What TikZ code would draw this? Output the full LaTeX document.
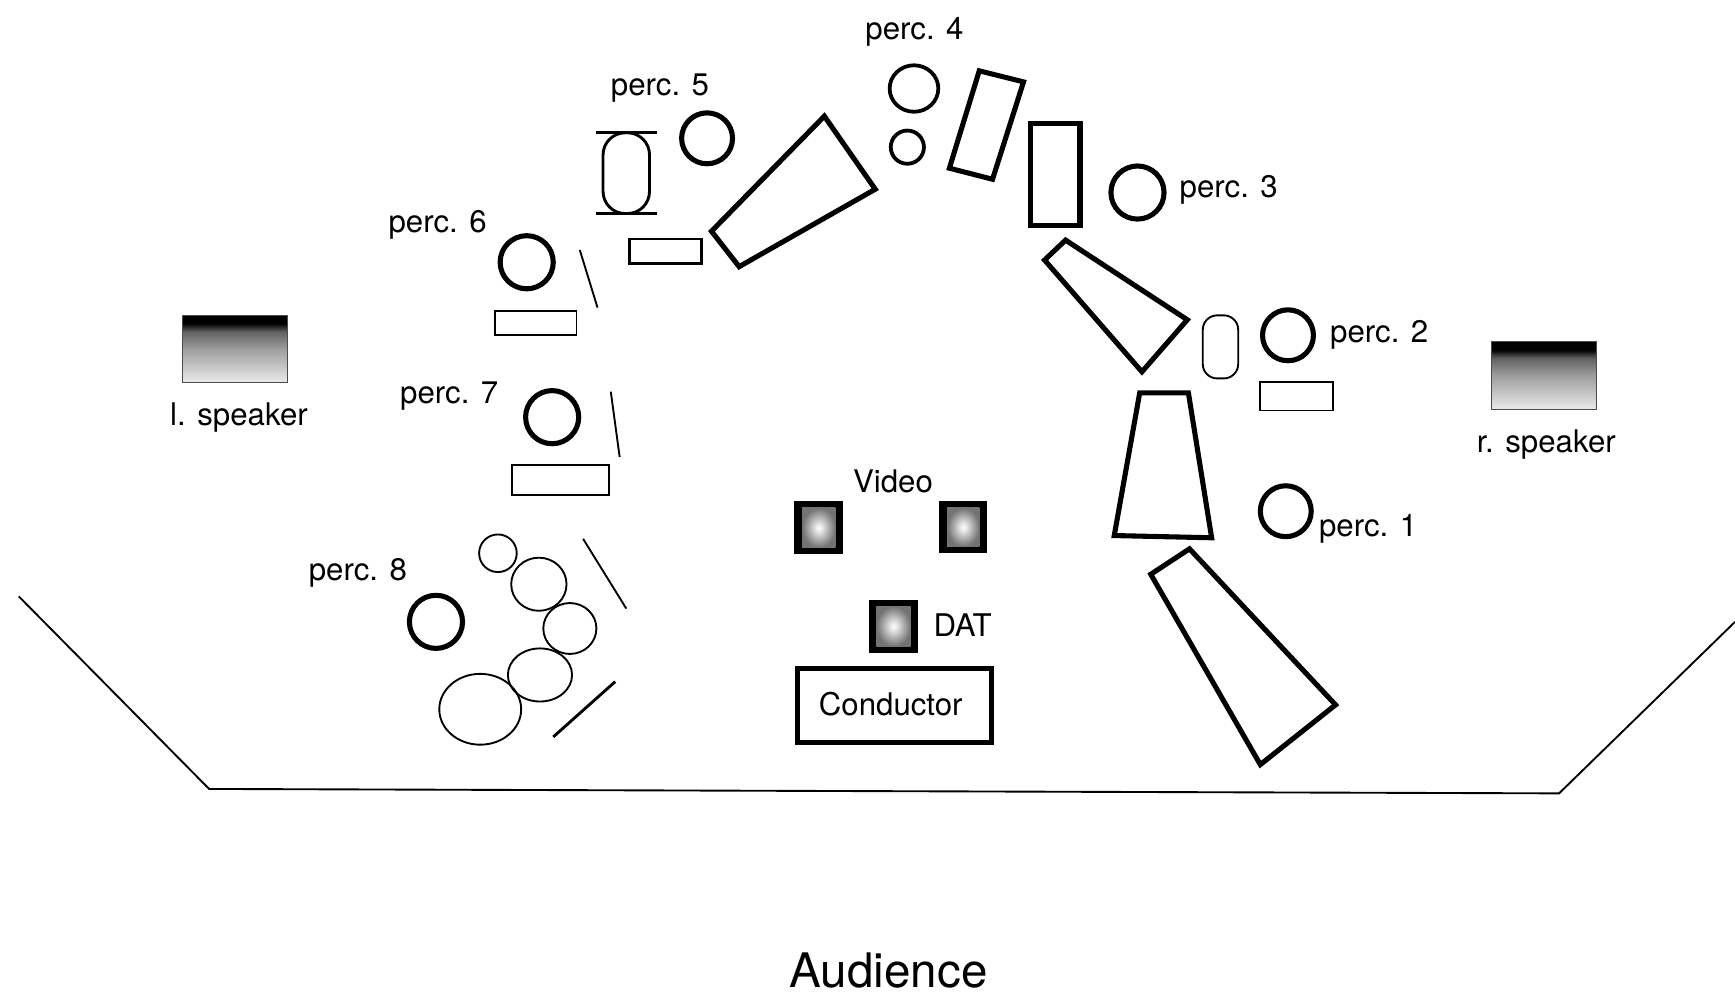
\documentclass[tikz,border=0pt]{standalone}
\usepackage{fontspec}
\setmainfont{TeX Gyre Heros}
\pgfdeclareverticalshading{spkshade}{100bp}{color(0bp)=(black!8); color(25bp)=(black!8); color(50bp)=(black!38); color(63bp)=(black!62); color(69bp)=(black); color(100bp)=(black)}
\pgfdeclareradialshading{monshade}{\pgfpointorigin}{color(0bp)=(white); color(6bp)=(black!12); color(16bp)=(black!35); color(25bp)=(black!55); color(50bp)=(black!55)}
\tikzset{
  thin line/.style={draw=black,line width=1.7pt},
  mid line/.style={draw=black,line width=2.6pt},
  thick line/.style={draw=black,line width=4.6pt,line join=miter},
  ring/.style={draw=black,line width=4.6pt},
  lbl/.style={font=\fontsize{28.2}{32}\selectfont,inner sep=0pt,text=black},
  speaker/.style={shading=spkshade,draw=black!70,line width=1pt},
  glow/.style={shading=monshade},
}
\newcommand{\monitor}[4]{%
  \fill[black] (#1,#2) rectangle (#3,#4);
  \shade[glow] (#1+7,#2+6) rectangle (#3-7,#4-6);
}
\begin{document}
\begin{tikzpicture}[x=1pt,y=-1pt]
\useasboundingbox (0,0) rectangle (1568,902);
% stage outline
\draw[thin line] (17,539) -- (189,713) -- (1409,717) -- (1568,562);
% large stands
\draw[thick line] (745,105) -- (791,171) -- (668,241) -- (643,209) -- cycle;
\draw[thick line] (885,64) -- (925,74) -- (897,162) -- (858,152) -- cycle;
\draw[thick line] (931,112) rectangle (976,204);
\draw[thick line] (963,217) -- (1073,289) -- (1032,336) -- (944,235) -- cycle;
\draw[thick line] (1030,355) -- (1074,355) -- (1095,486) -- (1007,484) -- cycle;
\draw[thick line] (1075,496) -- (1207,637) -- (1139,691) -- (1040,519) -- cycle;
% player circles
\draw[ring,line width=3.4pt] (826,80) ellipse [x radius=22,y radius=21];
\draw[ring,line width=3.4pt] (820,133) circle [radius=15];
\draw[ring] (1028,174) circle [radius=24];
\draw[ring] (1164,303) circle [radius=23];
\draw[ring] (1162,462) circle [radius=23];
\draw[ring] (639,125) circle [radius=23];
\draw[ring] (476,237) circle [radius=24];
\draw[ring] (499,377) circle [radius=24];
\draw[ring] (394,562) circle [radius=24];
% small instruments
\draw[mid line,rounded corners=20pt] (545,120) rectangle (587,193);
\draw[mid line] (539,120) -- (594,120);
\draw[mid line] (539,193) -- (594,193);
\draw[mid line] (569,216) rectangle (634,238);
\draw[thin line] (447,281) rectangle (521,303);
\draw[thin line] (463,420) rectangle (550,447);
\draw[thin line] (1139,345) rectangle (1205,371);
\draw[thin line,rounded corners=13pt] (1087,285) rectangle (1119,342);
\draw[thin line] (524,226) -- (540,278);
\draw[thin line] (552,354) -- (560,413);
\draw[thin line] (527,487) -- (566,550);
\draw[mid line] (556,616) -- (500,666);
% perc. 8 drums
\draw[thin line] (450,500) circle [radius=17];
\draw[thin line] (487,528) ellipse [x radius=25,y radius=24];
\draw[thin line] (515,568) ellipse [x radius=24,y radius=23];
\draw[thin line] (488,610) ellipse [x radius=29,y radius=24];
\draw[thin line] (434,641) ellipse [x radius=37,y radius=32];
% speakers
\path[speaker] (165,285) rectangle (260,346);
\path[speaker] (1348,309) rectangle (1443,370);
% monitors
\monitor{718}{453}{762}{501}
\monitor{849}{453}{892}{500}
\monitor{785}{542}{830}{590}
% conductor
\draw[thick line] (721,604) rectangle (896,671);
% labels
\node[lbl] (p4) at (826.5,28.5) {perc. 4};
\node[lbl] (p5) at (596.5,79.5) {perc. 5};
\node[lbl] (p6) at (395.5,203.5) {perc. 6};
\node[lbl] (p7) at (406,357.5) {perc. 7};
\node[lbl] (p8) at (323.5,517.5) {perc. 8};
\node[lbl] (p3) at (1110.5,171.5) {perc. 3};
\node[lbl] (p2) at (1246.5,302.5) {perc. 2};
\node[lbl] (p1) at (1236.5,477.5) {perc. 1};
\node[lbl] (ls) at (216,377) {l. speaker};
\node[lbl] (rs) at (1397.5,401.5) {r. speaker};
\node[lbl] (vid) at (807,435) {Video};
\node[lbl] (dat) at (870,565) {DAT};
\node[lbl] (con) at (805,636) {Conductor};
\node[lbl,font=\fontsize{43}{48}\selectfont] (aud) at (803,877) {Audience};
\end{tikzpicture}
\end{document}
